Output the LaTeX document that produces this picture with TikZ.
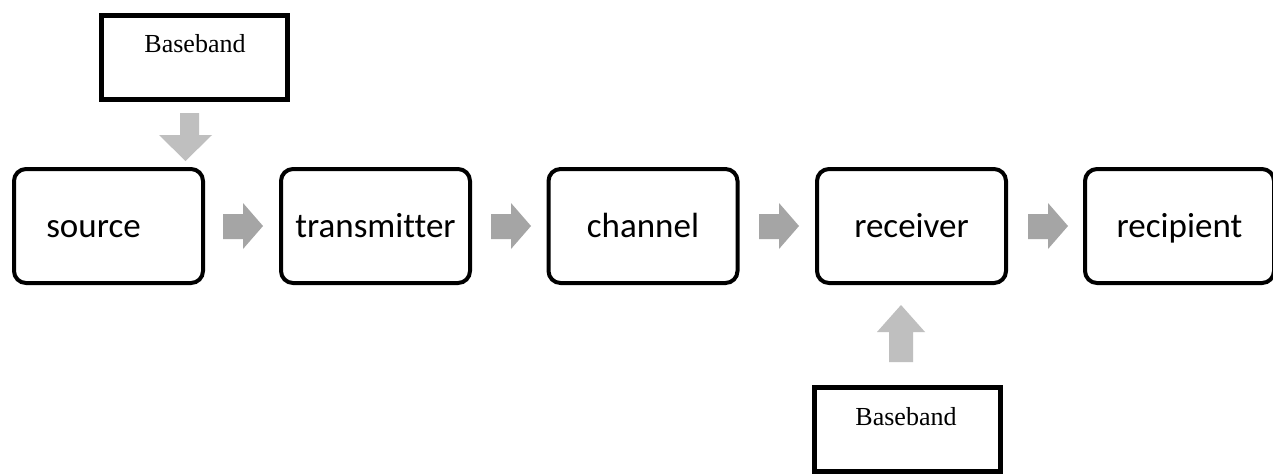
\documentclass[tikz,border=0pt]{standalone}
\usepackage{fontspec}
\setmainfont{Liberation Serif}
\newfontfamily\boxfont[Ligatures=NoCommon]{Carlito}
\begin{document}
\begin{tikzpicture}[x=1pt,y=-1pt,
  stage/.style={draw=black, line width=4pt, rounded corners=12pt, minimum width=189pt, minimum height=114pt, inner sep=0pt, text height=26pt, text depth=4pt, font=\boxfont\fontsize{35}{40}\selectfont},
  bbbox/.style={draw=black, line width=5pt, inner sep=0pt},
  bbtext/.style={font=\fontsize{26}{30}\selectfont, anchor=base, inner sep=0pt},
  harrow/.style={fill=arrowdark, draw=none},
  varrow/.style={fill=arrowlight, draw=none}]
\definecolor{arrowdark}{HTML}{A5A5A5}
\definecolor{arrowlight}{HTML}{BFBFBF}
\useasboundingbox (0,0) rectangle (1273,475);
\fill[white] (0,0) rectangle (1273,475);

% stage boxes
\node[stage] (src) at (108.5,226) {source\hspace*{30pt}};
\node[stage] (tx)  at (375.5,226) {transmitter};
\node[stage] (ch)  at (643,226) {channel};
\node[stage] (rx)  at (911.5,226) {receiver};
\node[stage] (rcp) at (1179.5,226) {recipient};

% baseband boxes
\node[bbbox, minimum width=186pt, minimum height=84pt] (bbtop) at (194.5,57.5) {};
\node[bbtext] (bbtoptext) at (195,52) {Baseband};
\node[bbbox, minimum width=186pt, minimum height=84pt] (bbbot) at (907.5,429) {};
\node[bbtext] (bbbottext) at (906,425) {Baseband};

% horizontal block arrows
\foreach \x in {223,491,759,1028}{
  \fill[harrow] (\x,214) -- (\x+20,214) -- (\x+20,203) -- (\x+40,226) -- (\x+20,249) -- (\x+20,239) -- (\x,239) -- cycle;
}

% down arrow (baseband -> source)
\fill[varrow] (180,113) -- (199,113) -- (199,135) -- (212,135) -- (185.5,161) -- (159,135) -- (180,135) -- cycle;

% up arrow (baseband -> receiver)
\fill[varrow] (889,362) -- (913,362) -- (913,332) -- (925,332) -- (901,305) -- (877,332) -- (889,332) -- cycle;
\end{tikzpicture}
\end{document}
